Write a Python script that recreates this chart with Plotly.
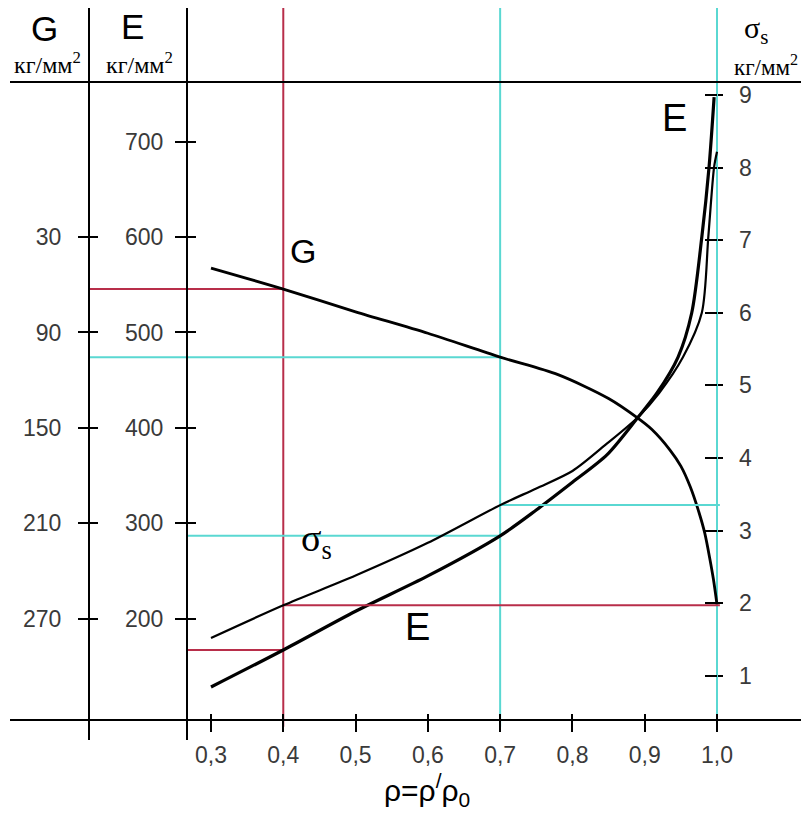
import plotly.graph_objects as go

# ---------------- data ----------------
rho_ticks = [0.3, 0.4, 0.5, 0.6, 0.7, 0.8, 0.9, 1.0]
rho_ticktext = ["0,3", "0,4", "0,5", "0,6", "0,7", "0,8", "0,9", "1,0"]
e_ticks = [200, 300, 400, 500, 600, 700]
g_ticks = [30, 90, 150, 210, 270]
s_ticks = [1, 2, 3, 4, 5, 6, 7, 8, 9]

# shear modulus G, kg/mm2
g_rho = [0.30, 0.40, 0.50, 0.60, 0.70, 0.78, 0.85, 0.89, 0.91, 0.935, 0.95, 0.963, 0.975, 0.983, 0.99, 0.995, 1.0]
g_val = [49.5, 62.7, 77.0, 90.5, 105.5, 116.5, 131.5, 143.7, 151.0, 163.9, 174.0, 187.0, 203.0, 216.0, 232.0, 245.0, 261.0]

# Young's modulus E, kg/mm2
e_rho = [0.30, 0.40, 0.50, 0.60, 0.70, 0.75, 0.80, 0.848, 0.891, 0.917, 0.946, 0.965, 0.979, 0.989, 0.996]
e_val = [128.6, 167.4, 208.0, 245.0, 287.0, 314.0, 343.0, 372.0, 411.4, 436.6, 474.0, 520.4, 600.0, 673.3, 746.6]

# yield stress sigma_s, kg/mm2
s_rho = [0.30, 0.40, 0.50, 0.60, 0.70, 0.75, 0.80, 0.848, 0.891, 0.92, 0.953, 0.979, 0.988, 0.996, 1.0]
s_val = [1.52, 1.97, 2.38, 2.83, 3.35, 3.58, 3.82, 4.20, 4.565, 4.895, 5.39, 6.0, 7.05, 8.01, 8.22]

# reading guides
ref_rho = [0.4, 0.7]
rho_full = 1.0
g_ref = [62.7, 105.5]
e_ref = [167.4, 287.0]
s_ref = [1.97, 3.35]

# ---------------- layout geometry ----------------
W, H = 801, 806
ML, MR, MT, MB = 2, 0, 0, 74
x_range = [0.02194, 1.12727]
e_range = [73.1, 839.9]
g_range = [390 - 0.6 * e_range[0], 390 - 0.6 * e_range[1]]
s_range = [0.114, 10.199]

pos_xaxis = 0.0273
pos_header = 0.8989
pos_g = 0.0989
pos_e = 0.2215
pos_s = 0.8849

rho_at_g_axis = x_range[0] + pos_g * (x_range[1] - x_range[0])
rho_at_e_axis = x_range[0] + pos_e * (x_range[1] - x_range[0])

RED = "#b82e4a"
CYAN = "#5ad8d2"
TICKFONT = dict(family="Liberation Sans, Arial, sans-serif", size=23, color="#3a3a3a")

fig = go.Figure()

# guide lines (horizontal)
guides = [
    (rho_at_g_axis, ref_rho[0], g_ref[0], "y3", RED),
    (rho_at_g_axis, ref_rho[1], g_ref[1], "y3", CYAN),
    (rho_at_e_axis, ref_rho[0], e_ref[0], "y", RED),
    (rho_at_e_axis, ref_rho[1], e_ref[1], "y", CYAN),
    (ref_rho[0], rho_full + 0.004, s_ref[0], "y5", RED),
    (ref_rho[1], rho_full + 0.004, s_ref[1], "y5", CYAN),
]
for x0, x1, yv, ya, col in guides:
    fig.add_trace(go.Scatter(x=[x0, x1], y=[yv, yv], xaxis="x", yaxis=ya, mode="lines",
                             line=dict(color=col, width=2), hoverinfo="skip", showlegend=False))

# curves
fig.add_trace(go.Scatter(x=g_rho, y=g_val, xaxis="x", yaxis="y3", mode="lines",
                         line=dict(color="black", width=2.8, shape="spline", smoothing=0.8),
                         name="G", showlegend=False))
fig.add_trace(go.Scatter(x=e_rho, y=e_val, xaxis="x", yaxis="y", mode="lines",
                         line=dict(color="black", width=3.2, shape="spline", smoothing=0.8),
                         name="E", showlegend=False))
fig.add_trace(go.Scatter(x=s_rho, y=s_val, xaxis="x", yaxis="y5", mode="lines",
                         line=dict(color="black", width=2.2, shape="spline", smoothing=0.8),
                         name="σs", showlegend=False))

# dummy traces so that the helper axes exist
for xa, ya in [("x2", "y"), ("x3", "y"), ("x", "y2"), ("x", "y4"), ("x", "y6")]:
    fig.add_trace(go.Scatter(x=[None], y=[None], xaxis=xa, yaxis=ya, mode="lines",
                             hoverinfo="skip", showlegend=False))

# vertical guides
shapes = []
for rv, col in [(ref_rho[0], RED), (ref_rho[1], CYAN), (rho_full, CYAN)]:
    shapes.append(dict(type="line", xref="x", yref="paper", x0=rv, x1=rv, y0=0.018, y1=1.0,
                       line=dict(color=col, width=2), layer="below"))

common = dict(showgrid=False, zeroline=False)

fig.update_layout(
    width=W, height=H,
    margin=dict(l=ML, r=MR, t=MT, b=MB, pad=0),
    paper_bgcolor="white", plot_bgcolor="white",
    shapes=shapes,
    xaxis=dict(range=x_range, domain=[0, 1], anchor="free", position=pos_xaxis,
               showline=True, linecolor="black", linewidth=2,
               ticks="outside", ticklen=11, tickwidth=2, tickcolor="black",
               tickvals=rho_ticks, ticktext=rho_ticktext, tickfont=TICKFONT,
               ticklabelstandoff=3, **common),
    xaxis2=dict(range=x_range, overlaying="x", anchor="free", position=pos_xaxis,
                showline=False, ticks="inside", ticklen=6, tickwidth=2, tickcolor="black",
                tickvals=rho_ticks, showticklabels=False, **common),
    xaxis3=dict(range=x_range, overlaying="x", anchor="free", position=pos_header,
                showline=True, linecolor="black", linewidth=2, ticks="",
                showticklabels=False, **common),
    yaxis=dict(range=e_range, domain=[0, 1], anchor="free", position=pos_e, side="left",
               showline=True, linecolor="black", linewidth=2,
               ticks="outside", ticklen=11, tickwidth=2, tickcolor="black",
               tickvals=e_ticks, tickfont=TICKFONT, ticklabelstandoff=7, **common),
    yaxis2=dict(range=e_range, overlaying="y", anchor="free", position=pos_e, side="left",
                showline=False, ticks="inside", ticklen=8, tickwidth=2, tickcolor="black",
                tickvals=e_ticks, showticklabels=False, **common),
    yaxis3=dict(range=g_range, overlaying="y", anchor="free", position=pos_g, side="left",
                showline=True, linecolor="black", linewidth=2,
                ticks="outside", ticklen=10, tickwidth=2, tickcolor="black",
                tickvals=g_ticks, tickfont=TICKFONT, ticklabelstandoff=12, **common),
    yaxis4=dict(range=g_range, overlaying="y", anchor="free", position=pos_g, side="left",
                showline=False, ticks="inside", ticklen=8, tickwidth=2, tickcolor="black",
                tickvals=g_ticks, showticklabels=False, **common),
    yaxis5=dict(range=s_range, overlaying="y", anchor="free", position=pos_s, side="right",
                showline=False, ticks="inside", ticklen=12, tickwidth=2, tickcolor="black",
                tickvals=s_ticks, tickfont=TICKFONT, ticklabelstandoff=21, **common),
    yaxis6=dict(range=s_range, overlaying="y", anchor="free", position=pos_s, side="right",
                showline=False, ticks="outside", ticklen=5, tickwidth=2, tickcolor="black",
                tickvals=s_ticks, showticklabels=False, **common),
)

SANS = "Liberation Sans, Arial, sans-serif"
SERIF = "Liberation Serif, Times New Roman, serif"
unit = "кг/мм<sup>2</sup>"

# the page shows the figure with an 8 px offset; positions below are screen pixels
OFF = 8


def px_x(v):
    return (v - OFF - ML) / (W - ML - MR)


def px_y(v):
    return (H - MB - (v - OFF)) / (H - MB - MT)


annots = [
    ("G", 44, 29, SANS, 35, "middle"),
    (unit, 47, 63, SERIF, 24, "middle"),
    ("E", 132, 26, SANS, 35, "middle"),
    (unit, 139, 63, SERIF, 24, "middle"),
    ("σ<sub>s</sub>", 756, 9, SERIF, 30, "top"),
    (unit, 766, 66, SERIF, 23, "middle"),
    ("G", 303, 251, SANS, 34, "middle"),
    ("σ<sub>s</sub>", 316, 541, SERIF, 38, "middle"),
    ("E", 417, 627, SANS, 38, "middle"),
    ("E", 674, 118, SANS, 38, "middle"),
    ("ρ=ρ<sup>/</sup>ρ<sub>0</sub>", 427, 790, SANS, 30, "middle"),
]
for txt, ax_, ay_, fam, sz, ya in annots:
    fig.add_annotation(text=txt, x=px_x(ax_), y=px_y(ay_), xref="paper", yref="paper",
                       showarrow=False, xanchor="center", yanchor=ya,
                       font=dict(family=fam, size=sz, color="black"))

fig.write_html("out.html")
